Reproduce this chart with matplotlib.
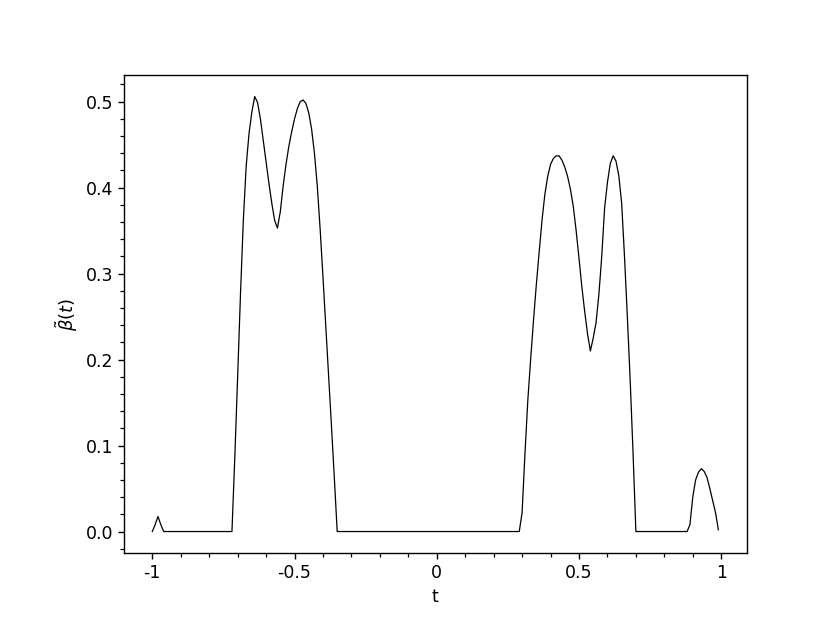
import matplotlib
matplotlib.use("Agg")
import matplotlib.pyplot as plt
from matplotlib.ticker import FixedLocator, FixedFormatter, MultipleLocator

# Sampled curve (t, beta~(t)); flat zero stretches are given by their end points
t_vals = [-1.00, -0.99, -0.98, -0.97, -0.96,
          -0.72, -0.71, -0.70, -0.69, -0.68, -0.67, -0.66, -0.65, -0.64, -0.63,
          -0.62, -0.61, -0.60, -0.59, -0.58, -0.57, -0.56, -0.55, -0.54, -0.53,
          -0.52, -0.51, -0.50, -0.49, -0.48, -0.47, -0.46, -0.45, -0.44, -0.43,
          -0.42, -0.41, -0.40, -0.39, -0.38, -0.37, -0.36, -0.35,
          0.29, 0.30, 0.31, 0.32, 0.33, 0.34, 0.35, 0.36, 0.37, 0.38, 0.39,
          0.40, 0.41, 0.42, 0.43, 0.44, 0.45, 0.46, 0.47, 0.48, 0.49, 0.50,
          0.51, 0.52, 0.53, 0.54, 0.55, 0.56, 0.57, 0.58, 0.59, 0.60, 0.61,
          0.62, 0.63, 0.64, 0.65, 0.66, 0.67, 0.68, 0.69, 0.70,
          0.88, 0.89, 0.90, 0.91, 0.92, 0.93, 0.94, 0.95, 0.96, 0.97, 0.98, 0.99]
beta_vals = [0.000, 0.008, 0.0175, 0.008, 0.000,
             0.000, 0.086, 0.180, 0.276, 0.362, 0.425, 0.463, 0.488, 0.506, 0.499,
             0.480, 0.455, 0.430, 0.405, 0.382, 0.362, 0.353, 0.372, 0.402, 0.427,
             0.448, 0.465, 0.480, 0.492, 0.500, 0.502, 0.498, 0.487, 0.468, 0.440,
             0.402, 0.352, 0.296, 0.238, 0.180, 0.122, 0.062, 0.000,
             0.000, 0.022, 0.090, 0.152, 0.200, 0.245, 0.287, 0.325, 0.362, 0.392, 0.413,
             0.427, 0.434, 0.437, 0.437, 0.432, 0.424, 0.413, 0.398, 0.378, 0.350, 0.318,
             0.285, 0.256, 0.230, 0.210, 0.225, 0.243, 0.276, 0.320, 0.376, 0.406, 0.428,
             0.437, 0.431, 0.414, 0.382, 0.320, 0.250, 0.176, 0.092, 0.000,
             0.000, 0.008, 0.040, 0.060, 0.069, 0.073, 0.070, 0.063, 0.050, 0.036, 0.022, 0.002]

x_ticks = [-1, -0.5, 0, 0.5, 1]
x_tick_labels = ["-1", "-0.5", "0", "0.5", "1"]
y_ticks = [0.0, 0.1, 0.2, 0.3, 0.4, 0.5]
y_tick_labels = ["0.0", "0.1", "0.2", "0.3", "0.4", "0.5"]

fig = plt.figure(figsize=(8.3, 6.23), dpi=100)
ax = fig.add_axes([0.1494, 0.1119, 0.7502, 0.7681])
ax.plot(t_vals, beta_vals, color="black", linewidth=0.9)

ax.xaxis.set_major_locator(FixedLocator(x_ticks))
ax.xaxis.set_major_formatter(FixedFormatter(x_tick_labels))
ax.yaxis.set_major_locator(FixedLocator(y_ticks))
ax.yaxis.set_major_formatter(FixedFormatter(y_tick_labels))
ax.xaxis.set_minor_locator(MultipleLocator(0.1))
ax.yaxis.set_minor_locator(MultipleLocator(0.02))

ax.tick_params(which="major", length=4.5, width=1.0, labelsize=12.5, top=False, right=False)
ax.tick_params(which="minor", length=2.6, width=0.9, top=False, right=False)
for s in ax.spines.values():
    s.set_linewidth(1.0)

ax.set_xlabel("t", fontsize=12.5)
ax.set_ylabel(r"$\tilde{\beta}(t)$", fontsize=13)

fig.savefig("out.png", dpi=100)
